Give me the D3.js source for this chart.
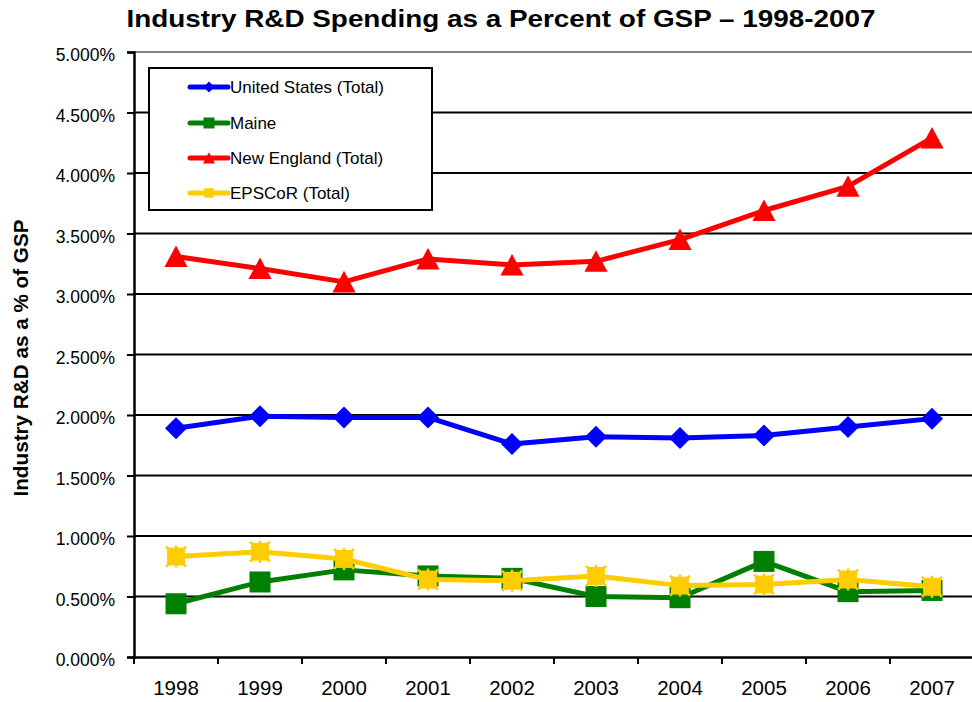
<!DOCTYPE html>
<html>
<head>
<meta charset="utf-8">
<script src="https://cdn.jsdelivr.net/npm/d3@7"></script>
<style>
  body { margin: 0; background: #fff; }
  svg { display: block; font-family: Arial, "Liberation Sans", sans-serif; }
</style>
</head>
<body>
<div id="chart"></div>
<script>
// chart data (percent of GSP)
const years = ["1998", "1999", "2000", "2001", "2002", "2003", "2004", "2005", "2006", "2007"];
const unitedStates = [1.89, 1.99, 1.98, 1.98, 1.76, 1.82, 1.81, 1.83, 1.90, 1.97];
const maine = [0.44, 0.62, 0.72, 0.67, 0.65, 0.50, 0.49, 0.79, 0.54, 0.55];
const newEngland = [3.31, 3.21, 3.10, 3.29, 3.24, 3.27, 3.45, 3.69, 3.89, 4.29];
const epscor = [0.83, 0.87, 0.81, 0.64, 0.63, 0.67, 0.59, 0.60, 0.64, 0.58];
const yTicks = [0, 0.5, 1, 1.5, 2, 2.5, 3, 3.5, 4, 4.5, 5];

const series = [
  { name: "United States (Total)", values: unitedStates, color: "#0000ff", marker: "diamond" },
  { name: "Maine", values: maine, color: "#008000", marker: "square" },
  { name: "New England (Total)", values: newEngland, color: "#ff0000", marker: "triangle" },
  { name: "EPSCoR (Total)", values: epscor, color: "#ffcc00", marker: "star" }
];

const width = 972, height = 702;
const plot = { left: 134, right: 974, top: 52, bottom: 657 };

const svg = d3.select("#chart").append("svg")
  .attr("width", width)
  .attr("height", height);

const x = d3.scaleBand().domain(years).range([plot.left, plot.right]);
const y = d3.scaleLinear().domain([0, 5]).range([plot.bottom, plot.top]);

// gridlines
svg.append("g")
  .selectAll("line")
  .data(yTicks.filter(d => d > 0))
  .enter()
  .append("line")
  .attr("x1", plot.left)
  .attr("x2", plot.right)
  .attr("y1", d => y(d))
  .attr("y2", d => y(d))
  .attr("stroke", d => d === 5 ? "#808080" : "#000")
  .attr("stroke-width", 2);

// y axis
const yAxis = svg.append("g")
  .attr("transform", `translate(${plot.left},0)`)
  .call(d3.axisLeft(y).tickValues(yTicks).tickSize(7).tickPadding(12)
    .tickFormat(d => d3.format(".3f")(d) + "%"));
yAxis.select(".domain").attr("stroke", "#000").attr("stroke-width", 2.5);
yAxis.selectAll(".tick line").attr("stroke", "#000").attr("stroke-width", 2);
yAxis.selectAll(".tick text")
  .attr("font-size", 17.5)
  .attr("dy", "0.5em")
  .attr("fill", "#000")
  .attr("font-family", "Arial, 'Liberation Sans', sans-serif");

// x axis, ticks between categories
const xAxis = svg.append("g")
  .attr("transform", `translate(0,${plot.bottom})`)
  .call(d3.axisBottom(x).tickSize(0).tickPadding(23));
xAxis.select(".domain").attr("stroke", "#000").attr("stroke-width", 2.5);
xAxis.selectAll(".tick text")
  .attr("font-size", 20.5)
  .attr("fill", "#000")
  .attr("font-family", "Arial, 'Liberation Sans', sans-serif");
xAxis.append("g")
  .selectAll("line")
  .data(years)
  .enter()
  .append("line")
  .attr("x1", d => x(d))
  .attr("x2", d => x(d))
  .attr("y1", 0)
  .attr("y2", 7)
  .attr("stroke", "#000")
  .attr("stroke-width", 2);

// marker shapes
function markerPath(type, s) {
  if (type === "diamond") return `M0,${-s}L${s},0L0,${s}L${-s},0Z`;
  if (type === "square") return `M${-s},${-s}H${s}V${s}H${-s}Z`;
  if (type === "triangle") return `M0,${-s * 1.05}L${s * 1.1},${s}L${-s * 1.1},${s}Z`;
  return `M${-s * 0.85},${-s * 0.85}H${s * 0.85}V${s * 0.85}H${-s * 0.85}Z`;
}

const line = d3.line()
  .x((d, i) => x(years[i]) + x.bandwidth() / 2)
  .y(d => y(d));

series.forEach(s => {
  const g = svg.append("g");
  g.append("path")
    .datum(s.values)
    .attr("fill", "none")
    .attr("stroke", s.color)
    .attr("stroke-width", 5)
    .attr("stroke-linejoin", "round")
    .attr("d", line);
  g.selectAll(".m")
    .data(s.values)
    .enter()
    .append("path")
    .attr("transform", (d, i) => `translate(${x(years[i]) + x.bandwidth() / 2},${y(d)})`)
    .attr("d", markerPath(s.marker, s.marker === "diamond" ? 11 : 10.5))
    .attr("fill", s.color);
  if (s.marker === "star") {
    g.selectAll(".st")
      .data(s.values)
      .enter()
      .append("path")
      .attr("transform", (d, i) => `translate(${x(years[i]) + x.bandwidth() / 2},${y(d)})`)
      .attr("d", "M-10,-10L10,10M10,-10L-10,10M0,-11V11")
      .attr("stroke", s.color)
      .attr("stroke-width", 2.5);
  }
});

// legend
const legend = svg.append("g");
legend.append("rect")
  .attr("x", 149)
  .attr("y", 68)
  .attr("width", 283)
  .attr("height", 142)
  .attr("fill", "#fff")
  .attr("stroke", "#000")
  .attr("stroke-width", 2);
const rows = [87, 123, 158, 193];
series.forEach((s, i) => {
  const ly = rows[i];
  legend.append("line")
    .attr("x1", 190).attr("x2", 228)
    .attr("y1", ly).attr("y2", ly)
    .attr("stroke", s.color)
    .attr("stroke-width", 5)
    .attr("stroke-linecap", "round");
  legend.append("path")
    .attr("transform", `translate(209,${ly})`)
    .attr("d", markerPath(s.marker, 5.5))
    .attr("fill", s.color);
  legend.append("text")
    .attr("x", 230)
    .attr("y", ly + 6)
    .attr("font-size", 17)
    .text(s.name);
});

// title
svg.append("text")
  .attr("x", 501)
  .attr("y", 27)
  .attr("text-anchor", "middle")
  .attr("font-size", 24)
  .attr("font-weight", "bold")
  .attr("textLength", 749)
  .attr("lengthAdjust", "spacingAndGlyphs")
  .text("Industry R&D Spending as a Percent of GSP \u2013 1998-2007");

// y axis title
svg.append("text")
  .attr("transform", "translate(28,358) rotate(-90)")
  .attr("text-anchor", "middle")
  .attr("font-size", 20.7)
  .attr("font-weight", "bold")
  .text("Industry R&D as a % of GSP");
</script>
</body>
</html>
